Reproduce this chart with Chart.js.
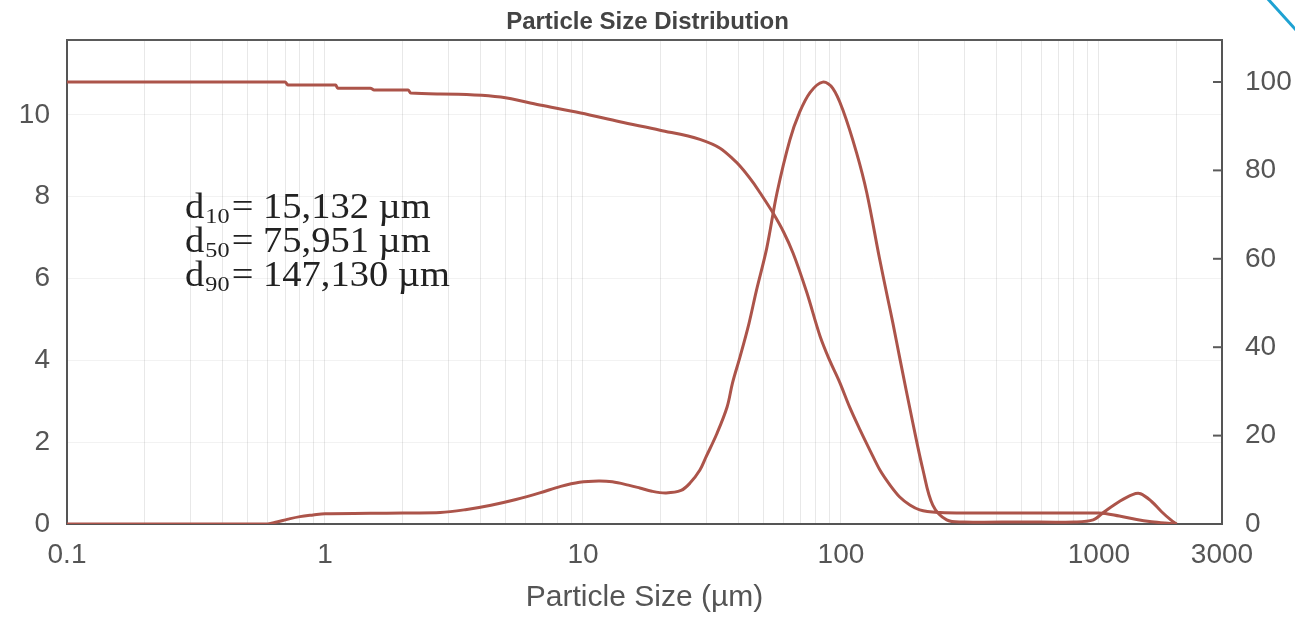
<!DOCTYPE html>
<html>
<head>
<meta charset="utf-8">
<script src="https://cdn.jsdelivr.net/npm/chart.js@4.4.0/dist/chart.umd.min.js"></script>
<style>
  html, body { margin: 0; padding: 0; background: #fff; }
</style>
</head>
<body>
<canvas id="psdChart" width="1295" height="619"></canvas>
<script>
// 빈도 분포 (왼쪽 축)
const freqSize = [0.1, 0.2, 0.4, 0.6, 0.65, 0.72, 0.8, 0.9, 1.0, 1.5, 2, 2.8, 3.5, 4.4, 5.5, 6.8, 8.2, 9.7, 11.5,
  13, 15, 16.6, 18.5, 21, 24, 26, 28.4, 30, 33, 36.2, 38, 40.6, 44, 47, 51.6, 56.5, 63.4, 69, 76,
  85, 93, 102, 115, 126, 141, 152, 159, 169, 190, 208, 227, 257, 300, 500, 800, 950, 1050, 1200, 1350,
  1450, 1600, 1750, 1900, 2000];
const freqValue = [0, 0, 0, 0, 0.05, 0.12, 0.18, 0.22, 0.25, 0.26, 0.27, 0.28, 0.35, 0.46, 0.6, 0.76, 0.92, 1.02, 1.05,
  1.03, 0.95, 0.88, 0.8, 0.76, 0.82, 1.0, 1.32, 1.64, 2.2, 2.86, 3.45, 4.08, 4.9, 5.7, 6.75, 8.09, 9.39, 10.05, 10.55,
  10.8, 10.65, 10.1, 9.07, 8.09, 6.5, 5.5, 4.91, 4.06, 2.47, 1.32, 0.46, 0.1, 0.05, 0.05, 0.05, 0.1, 0.3, 0.55, 0.72,
  0.74, 0.55, 0.3, 0.1, 0];

// 누적 분포 % (오른쪽 축)
const cumSize = [0.1, 0.5, 0.7, 0.72, 1.1, 1.12, 1.5, 1.55, 2.1, 2.15, 2.8, 4.8, 6.8, 9.8, 13.9, 19.9, 28.4, 34,
  38.1, 40.6, 45.6, 48.5, 54.5, 60, 65.2, 73.8, 83, 90, 99, 108, 118.6, 130, 141.6, 155, 169, 185, 202, 242,
  300, 600, 1000, 1200, 1400, 1600, 1800, 2000];
const cumValue = [100, 100, 100, 99.3, 99.3, 98.6, 98.6, 98.2, 98.2, 97.5, 97.3, 96.6, 94.8, 93, 91, 89.1, 87, 85,
  82.6, 81, 77.3, 75, 70.4, 66, 61.3, 52.3, 42.5, 37.3, 32, 26.5, 21.3, 16.5, 12.2, 8.8, 6.1, 4.3, 3.2, 2.6,
  2.5, 2.5, 2.5, 1.8, 1.0, 0.5, 0.2, 0];

const xTickLabels = [0.1, 1, 10, 100, 1000, 3000];
const rightTicks = [0, 20, 40, 60, 80, 100];
const statNames = ['10', '50', '90'];
const statValues = ['15,132', '75,951', '147,130'];

const lineColor = 'rgb(172, 84, 74)';
const labelFont = { family: 'Liberation Sans, Arial, sans-serif', size: 28 };
const serif = '"Liberation Serif", "Times New Roman", serif';

function toPoints(xs, ys) {
  return xs.map((x, i) => ({ x: x, y: ys[i] }));
}

// 로그 축 보조 격자용 눈금
function buildLogTicks(scale) {
  const ticks = [];
  [0.1, 1, 10, 100, 1000].forEach(d => {
    for (let k = 1; k <= 9; k++) {
      const v = d * k;
      if (v <= 3000.0001) ticks.push({ value: v, major: xTickLabels.includes(v) });
    }
  });
  scale.ticks = ticks;
}

function drawStat(ctx, x, y, sub, value) {
  ctx.save();
  ctx.translate(x, y);
  ctx.scale(1.1, 1);
  let cx = 0;
  ctx.font = '35px ' + serif;
  ctx.fillText('d', cx, 0);
  cx += ctx.measureText('d').width + 1;
  ctx.font = '22px ' + serif;
  ctx.fillText(sub, cx, 5);
  cx += ctx.measureText(sub).width + 2;
  ctx.font = '35px ' + serif;
  ctx.fillText('= ' + value + ' µm', cx, 0);
  ctx.restore();
}

const framePlugin = {
  id: 'frame',
  afterDatasetsDraw(chart) {
    const { ctx, chartArea: a, scales } = chart;
    ctx.save();
    ctx.strokeStyle = '#5a5a5a';
    ctx.lineWidth = 2;
    ctx.beginPath();
    ctx.moveTo(a.left - 1, a.top);
    ctx.lineTo(a.right + 1, a.top);
    ctx.stroke();

    // 오른쪽 축 안쪽 눈금
    rightTicks.forEach(v => {
      if (v === 0) return;
      const y = scales.y2.getPixelForValue(v);
      ctx.beginPath();
      ctx.moveTo(a.right - 9, y);
      ctx.lineTo(a.right, y);
      ctx.stroke();
    });

    // d10 / d50 / d90
    ctx.fillStyle = '#222';
    ctx.textBaseline = 'alphabetic';
    statNames.forEach((s, i) => {
      drawStat(ctx, a.left + 118, a.top + 178 + i * 34, s, statValues[i]);
    });

    // 오른쪽 위 파란 선
    ctx.strokeStyle = '#1ea2d2';
    ctx.lineWidth = 3;
    ctx.beginPath();
    ctx.moveTo(1267, -2);
    ctx.lineTo(1296, 30);
    ctx.stroke();
    ctx.restore();
  }
};

new Chart(document.getElementById('psdChart'), {
  type: 'line',
  data: {
    datasets: [
      {
        label: 'Frequency',
        data: toPoints(freqSize, freqValue),
        yAxisID: 'y',
        borderColor: lineColor,
        borderWidth: 3,
        pointRadius: 0,
        tension: 0.35,
        fill: false
      },
      {
        label: 'Cumulative',
        data: toPoints(cumSize, cumValue),
        yAxisID: 'y2',
        borderColor: lineColor,
        borderWidth: 3,
        pointRadius: 0,
        cubicInterpolationMode: 'monotone',
        fill: false
      }
    ]
  },
  options: {
    responsive: false,
    animation: false,
    devicePixelRatio: 1,
    layout: { padding: 0 },
    plugins: {
      legend: { display: false },
      tooltip: { enabled: false },
      title: {
        display: true,
        text: 'Particle Size Distribution',
        color: '#444',
        font: { family: 'Liberation Sans, Arial, sans-serif', size: 24, weight: 'bold' },
        padding: { top: 8, bottom: 3.2 }
      }
    },
    scales: {
      x: {
        type: 'logarithmic',
        min: 0.1,
        max: 3000,
        afterBuildTicks: buildLogTicks,
        afterFit(scale) { scale.height = 95; },
        grid: { color: 'rgba(0,0,0,0.09)', drawTicks: false },
        border: { display: true, color: '#555', width: 2 },
        ticks: {
          autoSkip: false,
          maxRotation: 0,
          padding: 14,
          color: '#555',
          font: labelFont,
          callback: (v) => xTickLabels.includes(v) ? String(v) : ''
        },
        title: {
          display: true,
          text: 'Particle Size (µm)',
          color: '#555',
          font: { family: 'Liberation Sans, Arial, sans-serif', size: 30 },
          padding: { top: 0, bottom: 3 }
        }
      },
      y: {
        position: 'left',
        min: 0,
        max: 11.83,
        afterFit(scale) { scale.width = 67; },
        grid: { color: 'rgba(0,0,0,0.05)', drawTicks: false },
        border: { display: true, color: '#555', width: 2 },
        ticks: { stepSize: 2, includeBounds: false, padding: 17, color: '#555', font: labelFont }
      },
      y2: {
        position: 'right',
        min: 0,
        max: 109.5,
        afterFit(scale) { scale.width = 73; },
        grid: { display: false, drawTicks: false },
        border: { display: true, color: '#555', width: 2 },
        ticks: { stepSize: 20, includeBounds: false, padding: 23, color: '#555', font: labelFont }
      }
    }
  },
  plugins: [framePlugin]
});
</script>
</body>
</html>
